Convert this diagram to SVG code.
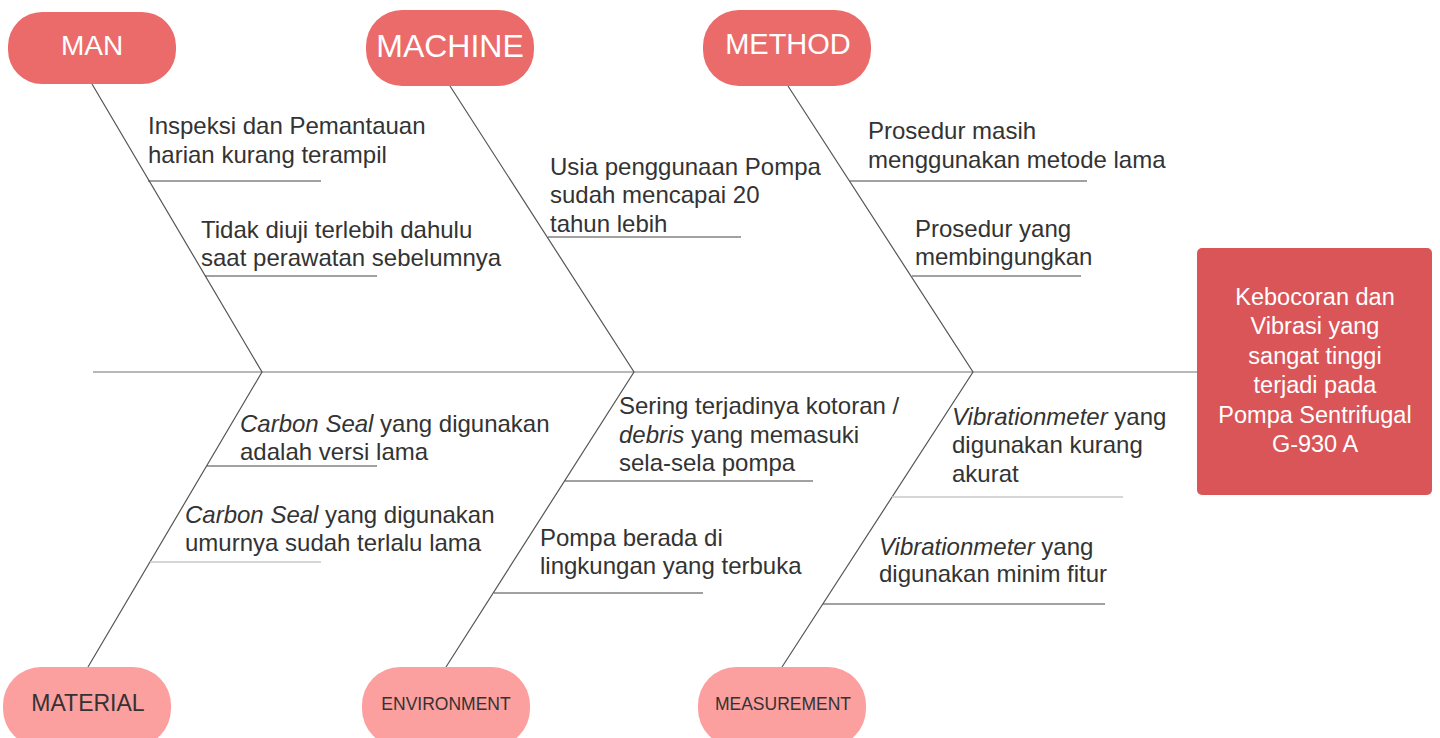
<svg xmlns="http://www.w3.org/2000/svg" width="1440" height="738" viewBox="0 0 1440 738">
<style>
.bone{stroke:#555;stroke-width:1.2;fill:none}
.spine{stroke:#b8b8b8;stroke-width:2;fill:none}
.sub{stroke:#444;stroke-width:1.2}
.sub-light{stroke:#c8c8c8;stroke-width:1.5}
.head-top{fill:#eb6b6b}
.head-bot{fill:#fc9f9f}
.effect{fill:#d95558}
.t{font-family:"Liberation Sans",Arial,sans-serif;font-size:24px;fill:#333}
.ht{font-family:"Liberation Sans",Arial,sans-serif;fill:#fff;text-anchor:middle}
.hb{font-family:"Liberation Sans",Arial,sans-serif;fill:#333;text-anchor:middle}
.et{font-family:"Liberation Sans",Arial,sans-serif;font-size:23.5px;fill:#fff;text-anchor:middle}
</style>
<rect width="1440" height="738" fill="#fff"/>
<g id="connectors">
<line class="spine" x1="93" y1="372" x2="1198" y2="372"/>
<polyline class="bone" points="92,84 262,372 88,667"/>
<polyline class="bone" points="450,86 634,372 446,667"/>
<polyline class="bone" points="788,86 973,372 782,667"/>
</g>
<g id="node-man">
<rect class="head-top" x="8" y="12" width="168" height="72" rx="34" ry="34"/>
<text class="ht" x="92" y="55" font-size="28">MAN</text>
</g>
<g id="node-machine">
<rect class="head-top" x="366" y="10" width="168" height="76" rx="36" ry="36"/>
<text class="ht" x="450" y="57" font-size="32">MACHINE</text>
</g>
<g id="node-method">
<rect class="head-top" x="703" y="10" width="168" height="76" rx="36" ry="36"/>
<text class="ht" x="788" y="54" font-size="29">METHOD</text>
</g>
<g id="node-material">
<rect class="head-bot" x="3" y="667" width="168" height="80" rx="38" ry="38"/>
<text class="hb" x="88" y="711" font-size="23">MATERIAL</text>
</g>
<g id="node-environment">
<rect class="head-bot" x="362" y="667" width="168" height="80" rx="38" ry="38"/>
<text class="hb" x="446" y="710" font-size="17.5">ENVIRONMENT</text>
</g>
<g id="node-measurement">
<rect class="head-bot" x="698" y="667" width="168" height="80" rx="38" ry="38"/>
<text class="hb" x="783" y="710" font-size="17.5">MEASUREMENT</text>
</g>
<g id="node-effect">
<rect class="effect" x="1197" y="248" width="235" height="247" rx="5" ry="5"/>
<text class="et" x="1315" y="305">Kebocoran dan</text>
<text class="et" x="1315" y="334">Vibrasi yang</text>
<text class="et" x="1315" y="364">sangat tinggi</text>
<text class="et" x="1315" y="393">terjadi pada</text>
<text class="et" x="1315" y="423">Pompa Sentrifugal</text>
<text class="et" x="1315" y="452">G-930 A</text>
</g>
<g id="cause-man-1">
<line class="sub" x1="148" y1="181" x2="321" y2="181"/>
<text class="t" x="148" y="134">Inspeksi dan Pemantauan</text>
<text class="t" x="148" y="163">harian kurang terampil</text>
</g>
<g id="cause-man-2">
<line class="sub" x1="205" y1="276" x2="377" y2="276"/>
<text class="t" x="201" y="238">Tidak diuji terlebih dahulu</text>
<text class="t" x="201" y="266">saat perawatan sebelumnya</text>
</g>
<g id="cause-machine-1">
<line class="sub" x1="548" y1="237" x2="741" y2="237"/>
<text class="t" x="550" y="175">Usia penggunaan Pompa</text>
<text class="t" x="550" y="203">sudah mencapai 20</text>
<text class="t" x="550" y="232">tahun lebih</text>
</g>
<g id="cause-method-1">
<line class="sub" x1="850" y1="181" x2="1087" y2="181"/>
<text class="t" x="868" y="139">Prosedur masih</text>
<text class="t" x="868" y="168">menggunakan metode lama</text>
</g>
<g id="cause-method-2">
<line class="sub" x1="912" y1="276" x2="1081" y2="276"/>
<text class="t" x="915" y="237">Prosedur yang</text>
<text class="t" x="915" y="265">membingungkan</text>
</g>
<g id="cause-material-1">
<line class="sub" x1="207" y1="466" x2="377" y2="466"/>
<text class="t" x="240" y="432"><tspan font-style="italic">Carbon Seal</tspan> yang digunakan</text>
<text class="t" x="240" y="460">adalah versi lama</text>
</g>
<g id="cause-material-2">
<line class="sub-light" x1="150" y1="562" x2="321" y2="562"/>
<text class="t" x="185" y="523"><tspan font-style="italic">Carbon Seal</tspan> yang digunakan</text>
<text class="t" x="185" y="551">umurnya sudah terlalu lama</text>
</g>
<g id="cause-environment-1">
<line class="sub" x1="565" y1="481" x2="813" y2="481"/>
<text class="t" x="619" y="414">Sering terjadinya kotoran /</text>
<text class="t" x="619" y="443"><tspan font-style="italic">debris</tspan> yang memasuki</text>
<text class="t" x="619" y="471">sela-sela pompa</text>
</g>
<g id="cause-environment-2">
<line class="sub" x1="494" y1="593" x2="703" y2="593"/>
<text class="t" x="540" y="546">Pompa berada di</text>
<text class="t" x="540" y="574">lingkungan yang terbuka</text>
</g>
<g id="cause-measurement-1">
<line class="sub-light" x1="892" y1="497" x2="1123" y2="497"/>
<text class="t" x="952" y="425"><tspan font-style="italic">Vibrationmeter</tspan> yang</text>
<text class="t" x="952" y="453">digunakan kurang</text>
<text class="t" x="952" y="482">akurat</text>
</g>
<g id="cause-measurement-2">
<line class="sub" x1="823" y1="604" x2="1105" y2="604"/>
<text class="t" x="879" y="555"><tspan font-style="italic">Vibrationmeter</tspan> yang</text>
<text class="t" x="879" y="582">digunakan minim fitur</text>
</g>
</svg>
